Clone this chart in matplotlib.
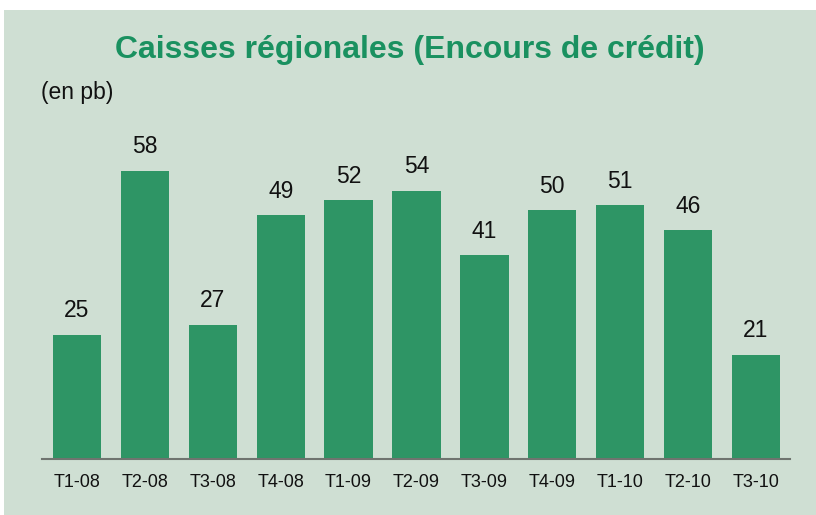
import matplotlib
matplotlib.use("Agg")
import matplotlib.pyplot as plt
from matplotlib.patches import Rectangle

categories = ["T1-08", "T2-08", "T3-08", "T4-08", "T1-09", "T2-09", "T3-09", "T4-09", "T1-10", "T2-10", "T3-10"]
values = [25, 58, 27, 49, 52, 54, 41, 50, 51, 46, 21]

plt.rcParams['font.family'] = ['Liberation Sans', 'DejaVu Sans']

W, H = 816, 515
fig = plt.figure(figsize=(W/100, H/100), dpi=100)
fig.patch.set_facecolor("white")
bg = "#cfdfd3"
fig.patches.append(Rectangle((4/W, 0), (W-4)/W, (H-10)/H, transform=fig.transFigure,
                             facecolor=bg, edgecolor="none", zorder=-5))

ax = fig.add_axes([42/W, 56/H, (790-42)/W, 348/H])
ax.set_zorder(2)
ax.set_facecolor("none")
x = list(range(len(categories)))
bars = ax.bar(x, values, width=0.71, color="#2e9565", zorder=2)
ax.set_xlim(-0.515, 10.5)
ax.set_ylim(0, 70)
for xi, v in zip(x, values):
    ax.annotate(str(v), (xi, v), xytext=(0, 9), textcoords="offset points",
                ha="center", va="bottom", fontsize=16.5, color="#111111")
ax.set_xticks(x)
ax.set_xticklabels(categories, fontsize=13, color="#111111")
ax.tick_params(axis="x", length=0, pad=11)
ax.set_yticks([])
for s in ["top", "right", "left"]:
    ax.spines[s].set_visible(False)
ax.spines["bottom"].set_color("#6f746f")
ax.spines["bottom"].set_linewidth(1.5)

fig.text(410/W, 1 - 50/H, "Caisses régionales (Encours de crédit)", ha="center", va="center",
         fontsize=23, fontweight="bold", color="#1a9160")
fig.text(41/W, 1 - 93/H, "(en pb)", ha="left", va="center", fontsize=16.5, color="#111111")

fig.savefig("out.png", dpi=100)
